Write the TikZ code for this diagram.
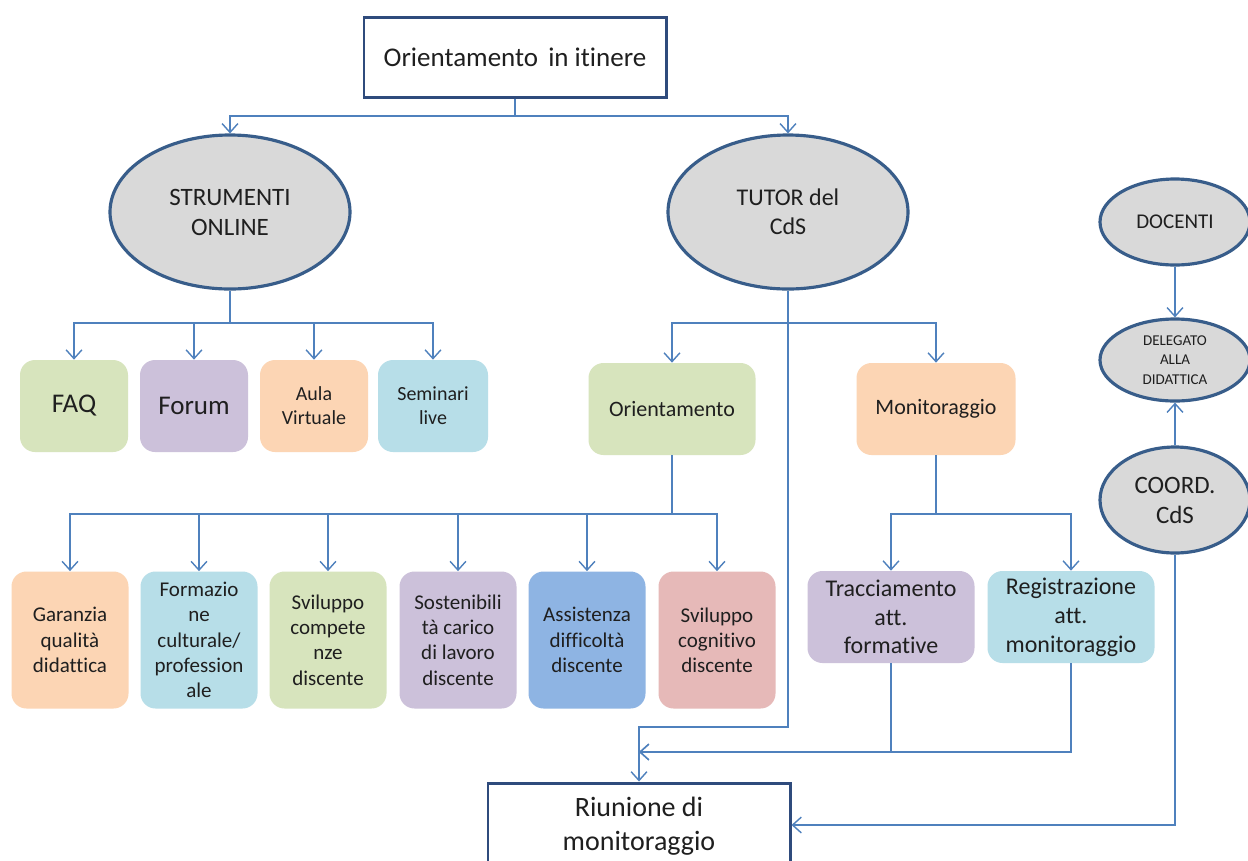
\documentclass[tikz,border=0pt]{standalone}
\usepackage{fontspec}
\setmainfont{Carlito}[Ligatures=CommonOff]
\usetikzlibrary{arrows.meta,shapes.geometric}
\definecolor{lineblue}{HTML}{4F81BD}
\definecolor{ellborder}{HTML}{385D8A}
\definecolor{ellfill}{HTML}{D9D9D9}
\definecolor{boxborder}{HTML}{2F4B7C}
\definecolor{cgreen}{HTML}{D7E4BD}
\definecolor{cpurple}{HTML}{CCC1DA}
\definecolor{cpeach}{HTML}{FCD5B4}
\definecolor{clblue}{HTML}{B7DEE8}
\definecolor{cblue}{HTML}{8EB4E3}
\definecolor{cpink}{HTML}{E6B9B8}
\definecolor{txt}{HTML}{1F1F1F}
\newdimen\pxu
\pxu=0.02cm
\newcommand{\fpx}[2]{\fontsize{\the\dimexpr #1\pxu\relax}{\the\dimexpr #1\pxu*#2/10\relax}\selectfont}
\begin{document}
\begin{tikzpicture}[x=0.02cm,y=-0.02cm,
  conn/.style={draw=lineblue,line width=0.8pt},
  arr/.style={conn,-{Straight Barb[length=5pt,width=9pt]}},
  ell/.style={ellipse,draw=ellborder,line width=1.8pt,fill=ellfill,inner sep=0pt,align=center,text=txt},
  mainbox/.style={draw=boxborder,line width=1.7pt,fill=white,inner sep=0pt,align=center,text=txt},
  rbox/.style={rounded corners=15\pxu,inner sep=0pt,align=center,text=txt},
  small/.style={rbox,minimum width=117\pxu,minimum height=137\pxu,font={\fpx{21}{12}}},
  mid/.style={rbox,minimum width=108\pxu,minimum height=92\pxu},
]
\useasboundingbox (0,0) rectangle (1248,860);
\clip (0,0) rectangle (1248,860);
\fill[white] (0,0) rectangle (1248,860);

% top
\node[mainbox,minimum width=302\pxu,minimum height=80\pxu,font={\fpx{27}{12}}] (title) at (515,57) {Orientamento\hspace{0.15em} in itinere};

% ellipses
\node[ell,minimum width=240\pxu,minimum height=154\pxu,font={\fpx{25}{12}}] (strum) at (230,212) {STRUMENTI\\ONLINE};
\node[ell,minimum width=240\pxu,minimum height=154\pxu,font={\fpx{24}{12}}] (tut) at (788,212) {TUTOR del\\CdS};
\node[ell,minimum width=150\pxu,minimum height=86\pxu,font={\fpx{21}{12}}] (doc) at (1175,222) {DOCENTI};
\node[ell,minimum width=150\pxu,minimum height=82\pxu,font={\fpx{15}{13}}] (del) at (1175,360) {DELEGATO\\ALLA\\DIDATTICA};
\node[ell,minimum width=150\pxu,minimum height=106\pxu,font={\fpx{25}{12}}] (coord) at (1175,500) {COORD.\\CdS};

% online tools
\node[mid,fill=cgreen,font={\fpx{27}{12}}] (faq) at (74,406) {FAQ};
\node[mid,fill=cpurple,font={\fpx{27}{12}}] (forum) at (194,406) {Forum};
\node[mid,fill=cpeach,font={\fpx{20}{12}}] (aula) at (314,406) {Aula\\Virtuale};
\node[mid,fill=clblue,font={\fpx{20}{12}},minimum width=110\pxu] (sem) at (433,406) {Seminari\\live};

% tutor branches
\node[rbox,fill=cgreen,minimum width=167\pxu,minimum height=92\pxu,font={\fpx{22}{12}}] (ori) at (672,409) {Orientamento};
\node[rbox,fill=cpeach,minimum width=159\pxu,minimum height=92\pxu,font={\fpx{22}{12}}] (mon) at (936,409) {Monitoraggio};

% orientamento children
\node[small,fill=cpeach] (b1) at (70,640) {Garanzia\\qualità\\didattica};
\node[small,fill=clblue] (b2) at (199,640) {Formazio\\ne\\culturale/\\profession\\ale};
\node[small,fill=cgreen] (b3) at (328,640) {Sviluppo\\compete\\nze\\discente};
\node[small,fill=cpurple] (b4) at (458,640) {Sostenibili\\tà carico\\di lavoro\\discente};
\node[small,fill=cblue] (b5) at (587,640) {Assistenza\\difficoltà\\discente};
\node[small,fill=cpink] (b6) at (717,640) {Sviluppo\\cognitivo\\discente};

% monitoraggio children
\node[rbox,fill=cpurple,minimum width=167\pxu,minimum height=92\pxu,font={\fpx{24}{12}}] (trac) at (891,617) {Tracciamento\\att.\\formative};
\node[rbox,fill=clblue,minimum width=167\pxu,minimum height=92\pxu,font={\fpx{24}{12}}] (reg) at (1071,617) {Registrazione\\att.\\monitoraggio};

% bottom
\node[mainbox,minimum width=302\pxu,minimum height=86\pxu,font={\fpx{28}{12}}] (riu) at (639,826) {Riunione di\\monitoraggio};

% connectors
\coordinate (j1) at (515,116);
\draw[conn] (title.south) -- (j1);
\draw[arr] (j1) -| (strum.north);
\draw[arr] (j1) -| (tut.north);

\coordinate (j2) at (230,323);
\draw[conn] (strum.south) -- (j2);
\draw[arr] (j2) -| (faq.north);
\draw[arr] (j2) -| (forum.north);
\draw[arr] (j2) -| (aula.north);
\draw[arr] (j2) -| (sem.north);

\coordinate (j3) at (788,323);
\draw[arr] (j3) -| (ori.north);
\draw[arr] (j3) -| (mon.north);
\coordinate (t1) at (788,727);
\draw[arr] (tut.south) -- (t1) -| (riu.north);

\coordinate (j4) at (672,514);
\draw[conn] (ori.south) -- (j4);
\foreach \b in {b1,b2,b3,b4,b5,b6} {\draw[arr] (j4) -| (\b.north);}

\coordinate (j5) at (936,514);
\draw[conn] (mon.south) -- (j5);
\draw[arr] (j5) -| (trac.north);
\draw[arr] (j5) -| (reg.north);

\coordinate (m1) at (639,752);
\draw[arr] (trac.south) |- (m1);
\draw[arr] (reg.south) |- (m1);

\draw[arr] (doc.south) -- (del.north);
\draw[arr] (coord.north) -- (del.south);
\coordinate (c1) at (1175,825);
\draw[arr] (coord.south) -- (c1) -- (c1 -| riu.east);
\end{tikzpicture}
\end{document}
